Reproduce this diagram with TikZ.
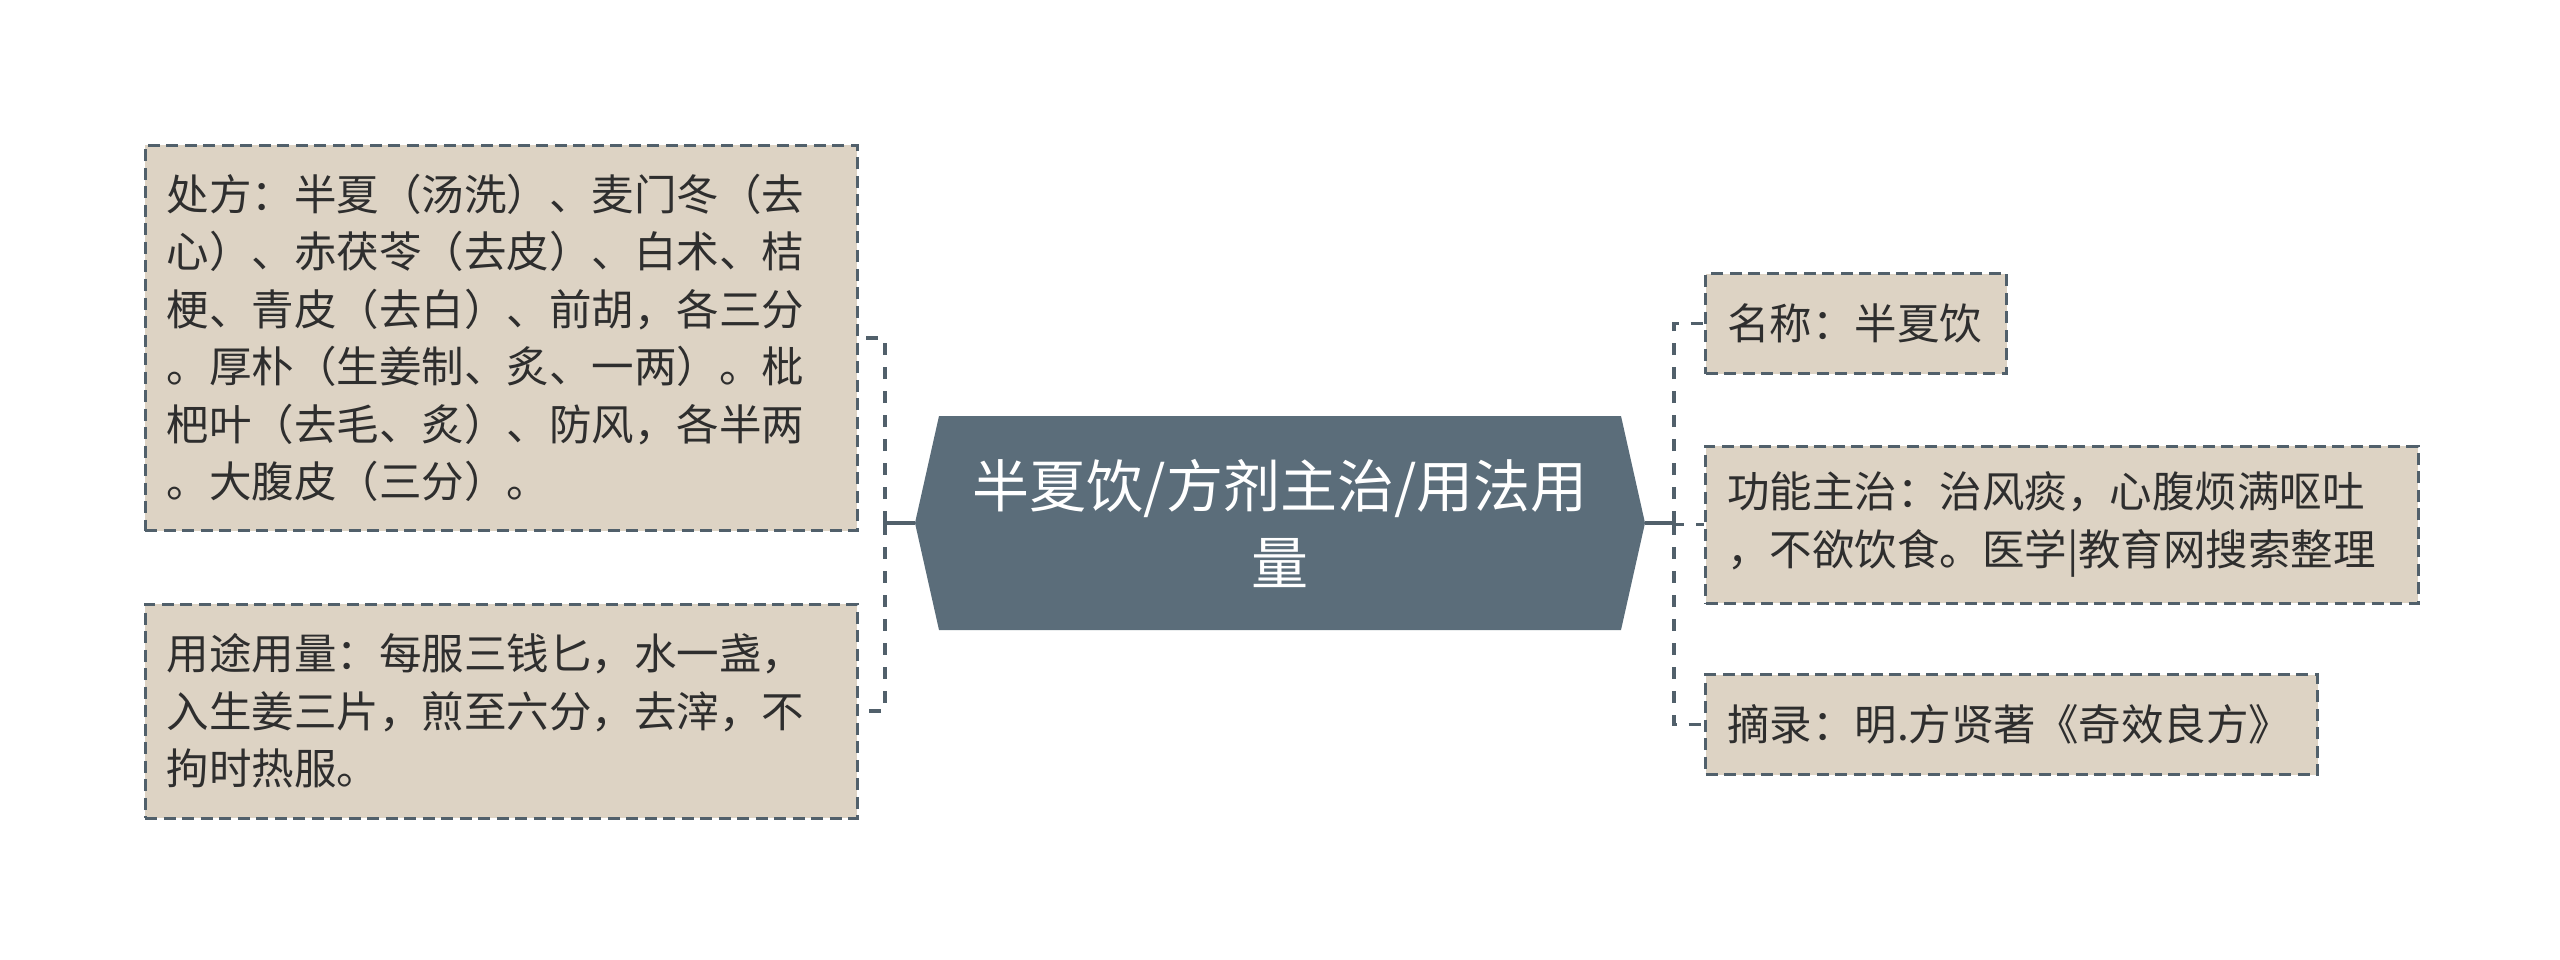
\documentclass[tikz,border=0pt]{standalone}
\usepackage{fontspec}
\setmainfont{Noto Sans CJK SC}
\definecolor{boxfill}{HTML}{DDD3C4}
\definecolor{edgec}{HTML}{51606B}
\definecolor{hexfill}{HTML}{5B6D7A}
\definecolor{txt}{HTML}{2E2E2E}
\begin{document}
\begin{tikzpicture}[x=1pt,y=-1pt,
  leaf/.style={draw=edgec, line width=3pt, dash pattern=on 12pt off 6.5pt,
    fill=boxfill, text=txt, font=\fontsize{42.5pt}{57.5pt}\selectfont,
    align=left, inner xsep=21.5pt, inner ysep=0pt, anchor=north west},
  link/.style={draw=edgec, line width=3.6pt, dash pattern=on 12pt off 12pt},
  trunk/.style={draw=edgec, line width=3.6pt}]
\useasboundingbox (0,0) rectangle (2560,960);

% central hexagon
\fill[hexfill] (915,523) -- (939,416) -- (1621,416) -- (1645,523) -- (1621,630) -- (939,630) -- cycle;
\coordinate (hl) at (915,523);
\coordinate (hr) at (1645,523);
\node[text=white, font=\fontsize{57pt}{77pt}\selectfont, align=center] (root) at (1280,523)
  {半夏饮/方剂主治/用法用\\量};

% left boxes
\node[leaf, text width=669pt, minimum height=385pt] (rx) at (143.6,144)
  {处方：半夏（汤洗）、麦门冬（去\\
   心）、赤茯苓（去皮）、白术、桔\\
   梗、青皮（去白）、前胡，各三分\\
   。厚朴（生姜制、炙、一两）。枇\\
   杷叶（去毛、炙）、防风，各半两\\
   。大腹皮（三分）。};
\node[leaf, text width=669pt, minimum height=214pt] (yt) at (143.6,602.7)
  {用途用量：每服三钱匕，水一盏，\\
   入生姜三片，煎至六分，去滓，不\\
   拘时热服。};

% right boxes
\node[leaf, text width=258pt, minimum height=100pt] (mc) at (1704,272)
  {名称：半夏饮};
\node[leaf, text width=669.7pt, minimum height=157pt] (gn) at (1704,444.6)
  {功能主治：治风痰，心腹烦满呕吐\\
   ，不欲饮食。医学|教育网搜索整理};
\node[leaf, text width=569pt, minimum height=100pt] (zl) at (1704,673)
  {摘录：明.方贤著《奇效良方》};

% connectors
\coordinate (jl) at (885,523);
\coordinate (jr) at (1674,523);
\draw[trunk] (hl) -- (jl);
\draw[trunk] (hr) -- (jr);
\draw[link] (jl) |- (rx.east);
\draw[link] (jl) |- (yt.east);
\draw[link] (jr) |- (mc.west);
\draw[link] (jr) |- (gn.west);
\draw[link] (jr) |- (zl.west);
\end{tikzpicture}
\end{document}
